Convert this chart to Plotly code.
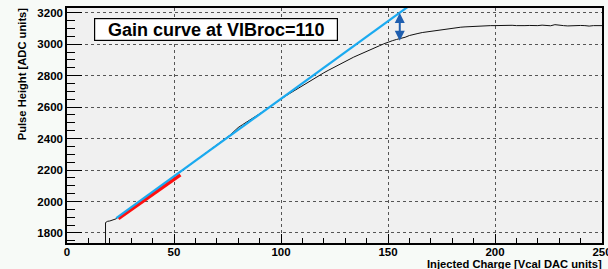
import plotly.graph_objects as go

# ---- data ----
charge = [16, 18, 18, 19, 20, 21, 22, 23,
          24, 26, 28, 30, 32, 34, 36, 38, 40, 42, 44, 46, 48, 50,
          52, 54, 56, 58, 60, 62, 64, 66, 68, 70, 72, 74, 76, 78, 80,
          82, 84, 86, 88, 90, 92, 94, 96, 98, 100,
          102, 104, 106, 108, 110, 112, 114, 116, 118, 120,
          122, 124, 126, 128, 130, 132, 134, 136, 138, 140,
          142, 144, 146, 148, 150, 152, 154, 156, 158, 160,
          162, 164, 166, 168, 170, 172, 174, 176, 178, 180,
          182, 184, 186, 188, 190, 192, 194, 196, 198, 200,
          202, 204, 206, 208, 210, 212, 214, 216, 218, 220,
          222, 224, 226, 228, 230, 232, 234, 236, 238, 240,
          242, 244, 246, 248, 250]
pulse_height = [0, 0, 1866, 1874, 1876, 1881, 1886, 1890,
                1902, 1920, 1941, 1960, 1981, 2000, 2020, 2040, 2060, 2079, 2099, 2118, 2139, 2158,
                2178, 2198, 2218, 2238, 2259, 2279, 2298, 2318, 2338, 2358, 2378, 2397, 2420, 2445, 2470,
                2488, 2505, 2520, 2537, 2556, 2575, 2594, 2614, 2633, 2652,
                2669, 2686, 2703, 2720, 2736, 2752, 2770, 2786, 2802, 2818,
                2833, 2848, 2862, 2876, 2890, 2905, 2918, 2930, 2943, 2955,
                2966, 2978, 2990, 3002, 3014, 3022, 3030, 3036, 3044, 3055,
                3063, 3068, 3074, 3078, 3083, 3088, 3092, 3096, 3100, 3103,
                3106, 3108, 3110, 3112, 3113, 3115, 3116, 3117, 3118, 3118,
                3119, 3117, 3118, 3120, 3118, 3116, 3118, 3119, 3117, 3118,
                3121, 3118, 3117, 3124, 3123, 3118, 3116, 3118, 3117, 3119,
                3118, 3115, 3118, 3118, 3118]

# linear fits: (x start, x end, value at start, slope)
blue_fit = (23, 162, 1894, 9.86)
red_fit = (24, 53, 1891, 9.58)

# gap arrow: x, top, bottom
gap_arrow = (155.5, 3208, 3022)

title_text = "Gain curve at VIBroc=110"
x_title = "Injected Charge [Vcal DAC units]"
y_title = "Pulse Height [ADC units]"


def fit_xy(f):
    x0, x1, y0, s = f
    return [x0, x1], [y0, y0 + s * (x1 - x0)]


bx, by = fit_xy(blue_fit)
rx, ry = fit_xy(red_fit)

fig = go.Figure()
fig.add_trace(go.Scatter(x=charge, y=pulse_height, mode="lines",
                         line=dict(color="#111111", width=1),
                         hoverinfo="skip", showlegend=False))
fig.add_trace(go.Scatter(x=rx, y=ry, mode="lines",
                         line=dict(color="#ff1010", width=3.5),
                         showlegend=False))
fig.add_trace(go.Scatter(x=bx, y=by, mode="lines",
                         line=dict(color="#1aaaf0", width=2.2),
                         showlegend=False))

font = "Liberation Sans, Arial, sans-serif"

axis_common = dict(
    showline=True, linecolor="black", linewidth=1.5, mirror=True,
    ticks="inside", tickcolor="black", zeroline=False,
    showgrid=True, gridcolor="#555555", griddash="dot", gridwidth=1,
    tickfont=dict(family=font, size=11.5, color="black", weight="bold"),
    ticklabeloverflow="allow",
)

fig.update_xaxes(range=[0, 250], dtick=50, ticklen=9, ticklabelstandoff=-3,
                 minor=dict(dtick=10, ticklen=5, ticks="inside", tickcolor="black", showgrid=False),
                 **axis_common)
fig.update_yaxes(range=[1736, 3230], dtick=200, ticklen=15, ticklabelstandoff=0,
                 minor=dict(dtick=50, ticklen=8, ticks="inside", tickcolor="black", showgrid=False),
                 **axis_common)

ax_x, ay_top, ay_bot = gap_arrow
fig.add_annotation(x=ax_x, y=ay_bot, ax=ax_x, ay=ay_top, xref="x", yref="y",
                   axref="x", ayref="y", text="", showarrow=True,
                   arrowhead=2, startarrowhead=2, arrowside="end+start",
                   arrowsize=1.0, startarrowsize=1.0, arrowwidth=2, arrowcolor="#1f5fb0")

fig.add_annotation(x=0.2785, y=0.9105, xref="paper", yref="paper",
                   text="<b>" + title_text + "</b>", showarrow=False,
                   xanchor="center", yanchor="middle",
                   font=dict(family=font, size=18, color="black"),
                   bgcolor="white", bordercolor="black", borderwidth=1.2,
                   borderpad=1, width=240, height=19)

fig.add_annotation(x=1.003, y=-0.09, xref="paper", yref="paper",
                   text="<b>" + x_title + "</b>", showarrow=False,
                   xanchor="right", yanchor="middle",
                   font=dict(family=font, size=11.2, color="black"))

fig.add_annotation(x=-0.085, y=0.72, xref="paper", yref="paper",
                   text="<b>" + y_title + "</b>", showarrow=False, textangle=-90,
                   xanchor="center", yanchor="middle",
                   font=dict(family=font, size=11.2, color="black"))

fig.update_layout(
    width=608, height=269,
    margin=dict(l=67, r=6, t=8, b=26, autoexpand=False),
    paper_bgcolor="#f7faf7", plot_bgcolor="#f0f0f0",
    showlegend=False,
)

fig.write_html("out.html", config={"displayModeBar": False},
               post_script="document.body.style.margin='0';document.body.style.background='#f7faf7';")
